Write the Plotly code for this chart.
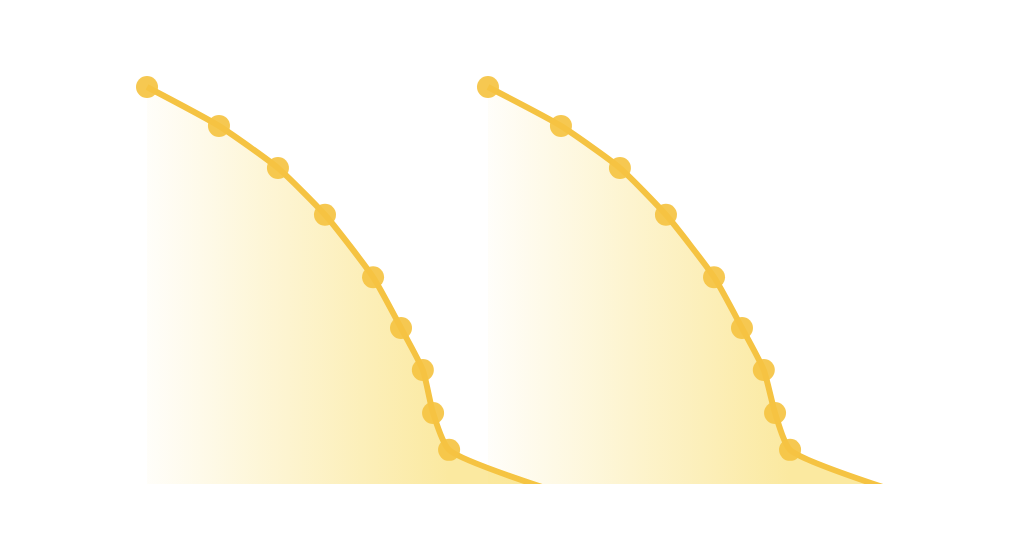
import plotly.graph_objects as go

# Series data
x_a = [0, 21.1, 38.4, 52.2, 66.3, 74.5, 80.9, 83.9, 88.6, 145.0]
y_a = [100, 90.2, 79.6, 67.8, 52.1, 39.3, 28.7, 17.9, 8.6, -8.7]
x_b = [100.0, 121.4, 138.7, 152.2, 166.3, 174.5, 180.9, 184.2, 188.6, 245.0]
y_b = [100, 90.2, 79.6, 67.8, 52.1, 39.3, 28.7, 17.9, 8.6, -8.7]

LINE = "#F5C342"
fig = go.Figure()
for xs, ys in [(x_a, y_a), (x_b, y_b)]:
    sizes = [22] * (len(xs) - 1) + [0]
    fig.add_trace(go.Scatter(
        x=xs, y=ys, mode="lines+markers",
        line=dict(color=LINE, width=6, shape="spline", smoothing=0.55),
        marker=dict(size=sizes, color=LINE, opacity=0.92, line=dict(width=0)),
        fill="tozeroy",
        fillgradient=dict(type="horizontal", start=xs[0], stop=xs[-2],
                          colorscale=[[0, "rgba(247,211,65,0.03)"], [1, "rgba(247,211,65,0.5)"]]),
        cliponaxis=True,
        showlegend=False, hoverinfo="skip",
    ))

fig.update_layout(
    width=1000, height=538,
    margin=dict(l=112, r=72, t=62, b=62),
    paper_bgcolor="white", plot_bgcolor="white",
    xaxis=dict(range=[-7.92, 231.4], showgrid=False, zeroline=False, showticklabels=False, showline=False),
    yaxis=dict(range=[0, 104.28], showgrid=False, zeroline=False, showticklabels=False, showline=False),
)
fig.write_html("out.html")
